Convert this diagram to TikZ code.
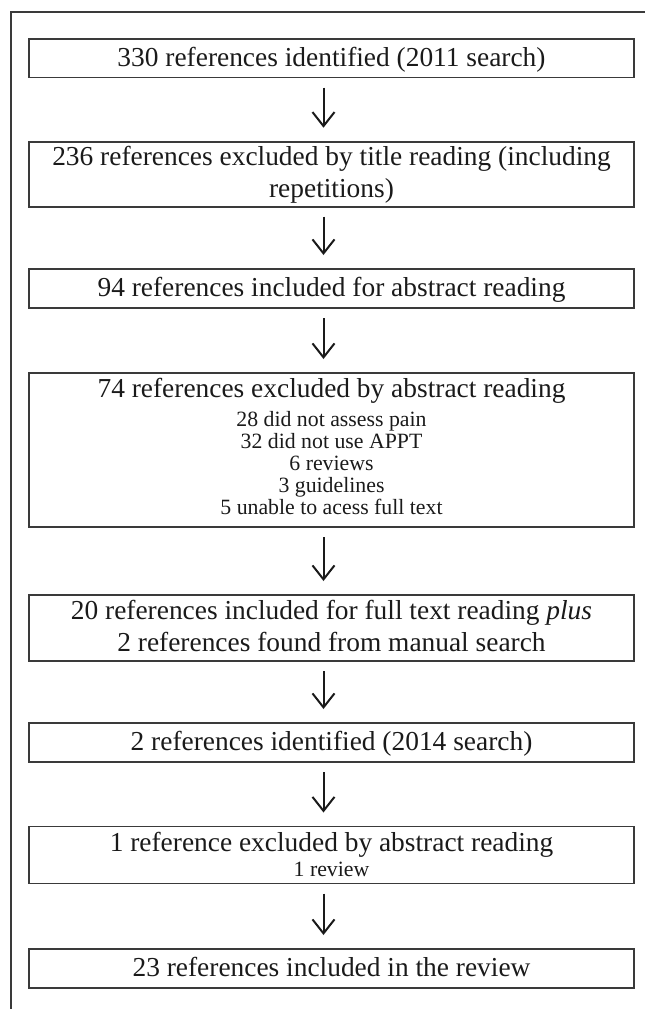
\documentclass[tikz,border=0pt]{standalone}
\usepackage{fontspec}
\setmainfont{Liberation Serif}
\usetikzlibrary{arrows.meta,calc}
\definecolor{ink}{HTML}{1A1A1A}
\definecolor{edgec}{HTML}{3A3A3A}
\begin{document}
\begin{tikzpicture}[x=0.5pt,y=-0.5pt,
  box/.style={rectangle, draw=edgec, line width=0.85pt, minimum width=302.5pt, inner sep=0pt, outer sep=0pt},
  maintext/.style={font=\fontsize{13.7pt}{16pt}\selectfont, text=ink, inner sep=0pt, anchor=base},
  subtext/.style={font=\fontsize{10.9pt}{12pt}\selectfont, text=ink, inner sep=0pt, anchor=base},
  flow/.style={draw=ink, line width=1pt, -{Straight Barb[length=7pt,width=11pt]}, shorten <=5pt, shorten >=7pt}]
\useasboundingbox (0,0) rectangle (645,1009);
% frame
\draw[edgec, line width=0.75pt] (11,1009) -- (11,12) -- (645,12);
% boxes
\node[box, minimum height=19.3pt] (b1) at (331.5,58.3) {};
\node[box, minimum height=32.5pt] (b2) at (331.5,174.2) {};
\node[box, minimum height=19.5pt] (b3) at (331.5,288.5) {};
\node[box, minimum height=77pt]   (b4) at (331.5,450) {};
\node[box, minimum height=33pt]   (b5) at (331.5,628) {};
\node[box, minimum height=19.5pt] (b6) at (331.5,742.5) {};
\node[box, minimum height=28.5pt] (b7) at (331.5,855) {};
\node[box, minimum height=19.5pt] (b8) at (331.5,968.5) {};
% texts
\node[maintext] (t1) at ($(b1.center)+(0,8)$) {330 references identified (2011 search)};
\node[maintext] (t2a) at ($(b2.center)+(0,-9)$) {236 references excluded by title reading (including};
\node[maintext] (t2b) at ($(b2.center)+(0,23.5)$) {repetitions)};
\node[maintext] (t3) at ($(b3.center)+(0,8)$) {94 references included for abstract reading};
\node[maintext] (t4) at ($(b4.center)+(0,-53)$) {74 references excluded by abstract reading};
\node[subtext] (t4a) at ($(b4.center)+(0,-23.5)$) {28 did not assess pain};
\node[subtext] (t4b) at ($(b4.center)+(0,-1.5)$) {32 did not use APPT};
\node[subtext] (t4c) at ($(b4.center)+(0,20.5)$) {6 reviews};
\node[subtext] (t4d) at ($(b4.center)+(0,42.5)$) {3 guidelines};
\node[subtext] (t4e) at ($(b4.center)+(0,64.5)$) {5 unable to acess full text};
\node[maintext] (t5a) at ($(b5.center)+(0,-9)$) {20 references included for full text reading \textit{plus}};
\node[maintext] (t5b) at ($(b5.center)+(0,23.5)$) {2 references found from manual search};
\node[maintext] (t6) at ($(b6.center)+(0,8)$) {2 references identified (2014 search)};
\node[maintext] (t7) at ($(b7.center)+(0,-4)$) {1 reference excluded by abstract reading};
\node[subtext] (t7a) at ($(b7.center)+(0,21)$) {1 review};
\node[maintext] (t8) at ($(b8.center)+(0,7.5)$) {23 references included in the review};
% arrows
\draw[flow] ([xshift=-4pt]b1.south) -- ([xshift=-4pt]b2.north);
\draw[flow] ([xshift=-4pt]b2.south) -- ([xshift=-4pt]b3.north);
\draw[flow] ([xshift=-4pt]b3.south) -- ([xshift=-4pt]b4.north);
\draw[flow] ([xshift=-4pt]b4.south) -- ([xshift=-4pt]b5.north);
\draw[flow] ([xshift=-4pt]b5.south) -- ([xshift=-4pt]b6.north);
\draw[flow] ([xshift=-4pt]b6.south) -- ([xshift=-4pt]b7.north);
\draw[flow] ([xshift=-4pt]b7.south) -- ([xshift=-4pt]b8.north);
\end{tikzpicture}
\end{document}
